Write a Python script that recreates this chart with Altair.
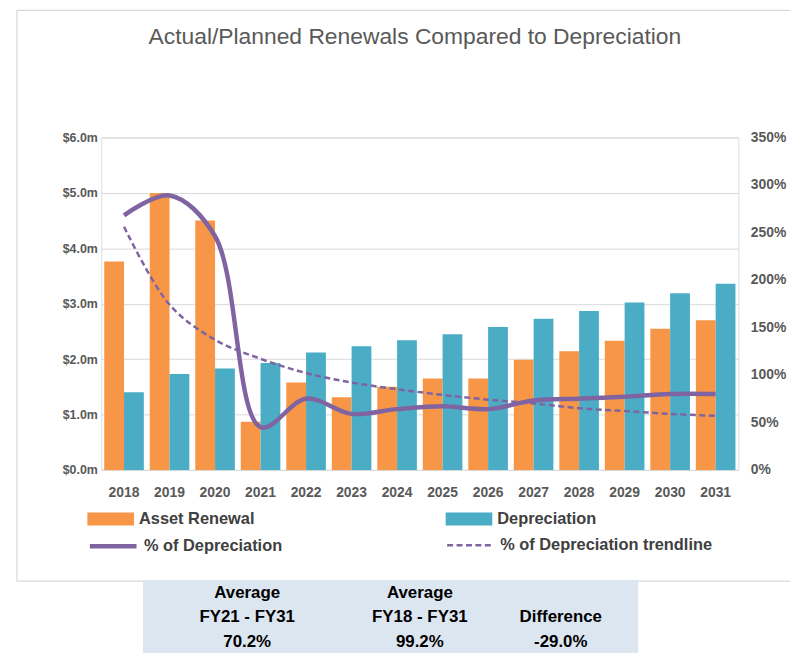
import altair as alt
import pandas as pd

# ---------------- data ----------------
years = [str(y) for y in range(2018, 2032)]
asset_renewal = [3.76, 5.00, 4.50, 0.87, 1.58, 1.31, 1.50, 1.65, 1.65, 1.99, 2.14, 2.33, 2.55, 2.70]
depreciation = [1.40, 1.73, 1.83, 1.93, 2.12, 2.23, 2.34, 2.45, 2.58, 2.73, 2.87, 3.02, 3.19, 3.36]
pct_of_depreciation = [268, 289, 246, 45, 75, 59, 64, 67, 64, 73, 75, 77, 80, 80]
pct_trendline = [256, 174, 137, 117, 102, 92, 85, 79, 74, 70, 65, 62, 59, 57]
series_names = ["Asset Renewal", "Depreciation", "% of Depreciation", "% of Depreciation trendline"]
left_ticks = [0, 1, 2, 3, 4, 5, 6]
right_ticks = [0, 50, 100, 150, 200, 250, 300, 350]
table_col1 = ["Average", "FY21 - FY31", "70.2%"]
table_col2 = ["Average", "FY18 - FY31", "99.2%"]
table_col3 = ["", "Difference", "-29.0%"]
title_text = "Actual/Planned Renewals Compared to Depreciation"

# ---------------- styling ----------------
FONT = "Liberation Sans"
ORANGE = "#F79646"
TEAL = "#4BACC6"
PURPLE = "#8064A2"
GRID = "#D9D9D9"
W, H = 642, 335

bars_df = pd.DataFrame({
    "year": years * 2,
    "series": [series_names[0]] * len(years) + [series_names[1]] * len(years),
    "value": asset_renewal + depreciation,
})
lines_df = pd.DataFrame({
    "year": years,
    "pct": pct_of_depreciation,
    "trend": pct_trendline,
    "s1": series_names[2],
    "s2": series_names[3],
})
one = pd.DataFrame({"k": [0]})

x_enc = alt.X(
    "year:O", sort=years,
    scale=alt.Scale(paddingInner=0.13, paddingOuter=0.065),
    axis=alt.Axis(title=None, labelAngle=0, labelFont=FONT, labelFontSize=14,
                  labelFontWeight="bold", labelColor="#595959", labelPadding=16,
                  ticks=False, domainColor=GRID, grid=False),
)
xoff = alt.XOffset("series:N", scale=alt.Scale(domain=series_names[:2], paddingInner=0, paddingOuter=0))
ybar_scale = alt.Scale(domain=[0, 6], nice=False)
ypct_scale = alt.Scale(domain=[0, 350], nice=False)


def leg(x, y, **kw):
    return alt.Legend(title=None, orient="none", legendX=x, legendY=y,
                      labelFont=FONT, labelFontSize=16.5, labelFontWeight="bold",
                      labelColor="#404040", labelOffset=5, labelLimit=400, **kw)


BAR_SYMBOL = "M-1,-0.28H1V0.28H-1Z"

orange = alt.Chart(bars_df).transform_filter(
    alt.datum.series == series_names[0]
).mark_bar().encode(
    x=x_enc, xOffset=xoff,
    y=alt.Y("value:Q", scale=ybar_scale,
            axis=alt.Axis(values=left_ticks, title=None,
                          labelExpr="'$' + format(datum.value, '.1f') + 'm'",
                          grid=True, gridColor=GRID, ticks=False, domain=False,
                          labelPadding=4, labelFont=FONT, labelFontSize=12.5,
                          labelFontWeight="bold", labelColor="#595959")),
    color=alt.Color("series:N", scale=alt.Scale(domain=[series_names[0]], range=[ORANGE]),
                    legend=leg(-14, 361, symbolType=BAR_SYMBOL, symbolSize=2209,
                               symbolStrokeWidth=0, symbolOpacity=1)),
)

teal = alt.Chart(bars_df).transform_filter(
    alt.datum.series == series_names[1]
).mark_bar().encode(
    x=x_enc, xOffset=xoff,
    y=alt.Y("value:Q", scale=ybar_scale, axis=None),
    color=alt.Color("series:N", scale=alt.Scale(domain=[series_names[1]], range=[TEAL]),
                    legend=leg(347, 361, symbolType=BAR_SYMBOL, symbolSize=2209,
                               symbolStrokeWidth=0, symbolOpacity=1)),
)

solid = alt.Chart(lines_df).mark_line(strokeWidth=4.5, interpolate="catmull-rom").encode(
    x=x_enc,
    y=alt.Y("pct:Q", scale=ypct_scale,
            axis=alt.Axis(orient="right", values=right_ticks, title=None,
                          labelExpr="datum.value + '%'", grid=False, ticks=False,
                          domain=False, labelPadding=12, labelFont=FONT, labelFontSize=14,
                          labelFontWeight="bold", labelColor="#595959")),
    color=alt.Color("s1:N", scale=alt.Scale(domain=[series_names[2]], range=[PURPLE]),
                    legend=leg(-14, 386, symbolType="stroke", symbolSize=2209,
                               symbolStrokeWidth=4.5)),
)

dashed = alt.Chart(lines_df).mark_line(strokeWidth=2.5, strokeDash=[6, 3.5],
                                       interpolate="catmull-rom").encode(
    x=x_enc,
    y=alt.Y("trend:Q", scale=ypct_scale, axis=None),
    color=alt.Color("s2:N", scale=alt.Scale(domain=[series_names[3]], range=[PURPLE]),
                    legend=leg(347, 386, symbolType="stroke", symbolSize=2209,
                               symbolStrokeWidth=2.5, symbolDash=[6, 3.5])),
)

border = alt.Chart(one).mark_rect(fillOpacity=0, stroke=GRID, strokeWidth=1.2).encode(
    x=alt.value(-85), x2=alt.value(698), y=alt.value(-128), y2=alt.value(447)
)
table_bg = alt.Chart(one).mark_rect(fill="#DCE6F1").encode(
    x=alt.value(42), x2=alt.value(541), y=alt.value(446), y2=alt.value(520)
)


def table_text(lines, xpos):
    return alt.Chart(one).mark_text(
        text=lines, font=FONT, fontSize=17, fontWeight="bold", color="#000000",
        align="center", baseline="alphabetic", lineHeight=24.5,
    ).encode(x=alt.value(xpos), y=alt.value(464))


chart = alt.layer(
    border, table_bg, orange, teal, solid, dashed,
    table_text(table_col1, 147), table_text(table_col2, 321), table_text(table_col3, 463),
).resolve_scale(
    y="independent", color="independent"
).properties(
    width=W, height=H,
    title=alt.TitleParams(text=title_text, font=FONT, fontSize=23, fontWeight="normal",
                          color="#595959", anchor="middle", baseline="alphabetic",
                          offset=-57.5, dx=-5),
    autosize=alt.AutoSizeParams(type="none"),
    padding={"left": 94, "top": 128, "right": 52, "bottom": 182},
).configure_view(stroke=None).configure(background="white")

chart.save("out.html", embed_options={"renderer": "svg", "actions": False})
